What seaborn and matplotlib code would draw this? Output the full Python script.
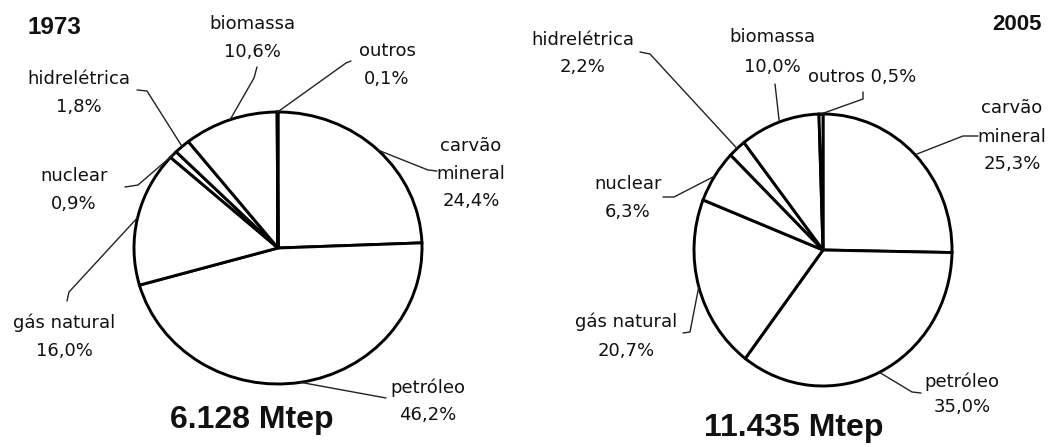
import numpy as np
import matplotlib
matplotlib.use("Agg")
import matplotlib.pyplot as plt
import matplotlib.transforms as mtransforms
import seaborn as sns

# ------------------------------------------------------------------
# data
# ------------------------------------------------------------------
sources = ["carvão mineral", "petróleo", "gás natural", "nuclear",
           "hidrelétrica", "biomassa", "outros"]
share_1973 = [24.4, 46.2, 16.0, 0.9, 1.8, 10.6, 0.1]
share_2005 = [25.3, 35.0, 20.7, 6.3, 2.2, 10.0, 0.5]
years = ["1973", "2005"]
totals = ["6.128 Mtep", "11.435 Mtep"]

# ------------------------------------------------------------------
# layout (pixel coords, y down): pie ellipse, label spots, leader elbows
# ------------------------------------------------------------------
LAYOUT = {
    "1973": dict(
        center=(278, 248), rx=144, ry=136,
        year_pos=(54, 27, 17.5), total_pos=(252, 428),
        labels={
            "carvão mineral": dict(x=471, y=[146, 174, 201], path=[(437, 171), (428, 170)]),
            "petróleo": dict(x=428, y=[388, 415], path=[(386, 398)]),
            "gás natural": dict(x=64, y=[323, 351], path=[(67, 301), (69, 292)]),
            "nuclear": dict(x=74, y=[176, 204], path=[(125, 187), (138, 185)]),
            "hidrelétrica": dict(x=79, y=[79, 107], path=[(137, 90), (147, 91)]),
            "biomassa": dict(x=252, y=[24, 52], path=[(257, 67), (254, 78)]),
            "outros": dict(x=387, y=[51, 79], path=[(351, 61), (346, 63)]),
        }),
    "2005": dict(
        center=(823, 250), rx=129, ry=136,
        year_pos=(1017, 24, 16), total_pos=(794, 436),
        labels={
            "carvão mineral": dict(x=1012, y=[108, 137, 164], path=[(978, 136), (963, 136)]),
            "petróleo": dict(x=962, y=[382, 407], path=[(921, 393), (912, 392)]),
            "gás natural": dict(x=626, y=[322, 351], path=[(683, 333), (690, 332)]),
            "nuclear": dict(x=628, y=[184, 212], path=[(663, 197), (674, 197)]),
            "hidrelétrica": dict(x=583, y=[40, 67], path=[(640, 52), (650, 54)]),
            "biomassa": dict(x=772, y=[37, 67], path=[(775, 84)]),
            "outros": dict(x=862, y=[77], path=[(863, 92), (863, 99)], one_line=True),
        }),
}

W, H = 1053, 447

sns.set_style("white")
plt.rcParams["font.family"] = ["DejaVu Sans"]

fig = plt.figure(figsize=(W / 100, H / 100), dpi=100)
ax = fig.add_axes([0, 0, 1, 1])


def pct(v):
    return f"{v:.1f}".replace(".", ",") + "%"


for year, values, total in zip(years, [share_1973, share_2005], totals):
    lay = LAYOUT[year]
    cx, cy = lay["center"]
    rx, ry = lay["rx"], lay["ry"]

    wedges, _ = ax.pie(values, radius=1, center=(0, 0), startangle=90,
                       counterclock=False, colors=["white"] * len(values),
                       wedgeprops=dict(edgecolor="black", linewidth=2.1))
    trans = mtransforms.Affine2D().scale(rx, -ry).translate(cx, cy) + ax.transData
    for w in wedges:
        w.set_transform(trans)

    for src, val, w in zip(sources, values, wedges):
        lab = lay["labels"][src]
        mid = np.deg2rad((w.theta1 + w.theta2) / 2)
        edge = (cx + rx * np.cos(mid), cy - ry * np.sin(mid))
        pts = lab["path"] + [edge]
        ax.plot([p[0] for p in pts], [p[1] for p in pts], color="#222222", lw=1.0)

        if lab.get("one_line"):
            lines = [f"{src} {pct(val)}"]
        elif src == "carvão mineral":
            lines = src.split() + [pct(val)]
        else:
            lines = [src, pct(val)]
        for txt, ty in zip(lines, lab["y"]):
            ax.text(lab["x"], ty, txt, ha="center", va="center", fontsize=13,
                    color="#111111")

    yx, yy, ysize = lay["year_pos"]
    ax.text(yx, yy, year, ha="center", va="center", fontsize=ysize,
            fontweight="bold", family="Liberation Sans", color="#111111")
    tx, ty = lay["total_pos"]
    ax.text(tx, ty, total, ha="center", va="baseline", fontsize=23,
            fontweight="bold", family="Liberation Sans", color="#111111")

ax.set_aspect("auto")
ax.set_xlim(0, W)
ax.set_ylim(H, 0)
ax.axis("off")

fig.savefig("out.png", dpi=100, facecolor="white")
